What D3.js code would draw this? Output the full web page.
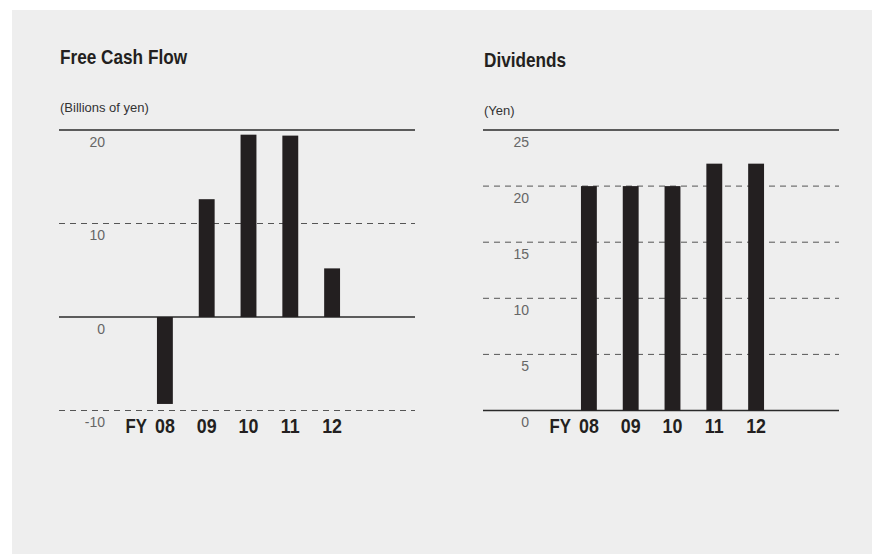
<!DOCTYPE html>
<html>
<head>
<meta charset="utf-8">
<script src="https://cdn.jsdelivr.net/npm/d3@7"></script>
<style>
  body { margin: 0; background: #fff; }
  svg { display: block; }
</style>
</head>
<body>
<div id="chart"></div>
<script>
// Data
const years = ["08", "09", "10", "11", "12"];
const freeCashFlow = [-9.3, 12.6, 19.5, 19.4, 5.2];
const dividends = [20, 20, 20, 22, 22];
const fcfTicks = [-10, 0, 10, 20];
const dividendTicks = [0, 5, 10, 15, 20, 25];

const width = 873;
const height = 554;

const svg = d3
  .select("#chart")
  .append("svg")
  .attr("width", width)
  .attr("height", height)
  .attr("viewBox", [0, 0, width, height]);

// grey backdrop
svg
  .append("rect")
  .attr("x", 12)
  .attr("y", 10)
  .attr("width", width - 13)
  .attr("height", height - 10)
  .attr("fill", "#eeeeee");

const plain = "'Liberation Sans', Arial, sans-serif";

// no condensed bold face available, so squeeze the bold one horizontally
function condensed(parent, x, y, txt, size, anchor = "start", squeeze = 0.8) {
  return parent
    .append("g")
    .attr("transform", `translate(${x},${y}) scale(${squeeze},1)`)
    .append("text")
    .attr("text-anchor", anchor)
    .attr("font-family", plain)
    .attr("font-weight", "bold")
    .attr("font-size", size + "px")
    .attr("fill", "#231f20")
    .text(txt);
}

function drawPanel(opts) {
  const { left, title, unit, values, ticks, titleY, unitY } = opts;
  const plotW = 356;
  const top = 130;
  const bottom = 410.5;

  const g = svg.append("g").attr("transform", `translate(${left},0)`);

  const x = d3
    .scaleBand()
    .domain(years)
    .range([85, 294])
    .paddingInner(0.62)
    .paddingOuter(0.31);

  const y = d3
    .scaleLinear()
    .domain(d3.extent(ticks))
    .range([bottom, top]);

  // title + unit
  condensed(g, 1, titleY, title, 20, "start", 0.86);

  g.append("text")
    .attr("x", 1)
    .attr("y", unitY)
    .attr("font-family", plain)
    .attr("font-size", "13px")
    .attr("fill", "#333")
    .text(unit);

  // gridlines: top and zero are solid, the rest dashed
  const maxTick = d3.max(ticks);
  const solid = (d) => d === 0 || d === maxTick;
  g.append("g")
    .selectAll("line")
    .data(ticks)
    .join("line")
    .attr("x1", 0)
    .attr("x2", plotW)
    .attr("y1", (d) => y(d))
    .attr("y2", (d) => y(d))
    .attr("stroke", (d) => (solid(d) ? "#2a2a2a" : "#555"))
    .attr("stroke-width", (d) => (solid(d) ? 1.4 : 1))
    .attr("stroke-dasharray", (d) => (solid(d) ? null : "6,5"));

  // tick labels sit just under their line
  g.append("g")
    .selectAll("text")
    .data(ticks)
    .join("text")
    .attr("x", 46)
    .attr("y", (d) => y(d) + 16.5)
    .attr("text-anchor", "end")
    .attr("font-family", plain)
    .attr("font-size", "14px")
    .attr("fill", "#666")
    .text((d) => d);

  // bars
  g.append("g")
    .selectAll("rect")
    .data(values)
    .join("rect")
    .attr("x", (d, i) => x(years[i]))
    .attr("width", x.bandwidth())
    .attr("y", (d) => y(Math.max(0, d)))
    .attr("height", (d) => Math.abs(y(d) - y(0)))
    .attr("fill", "#231f20");

  // category labels
  const labelY = 433;
  years.forEach((yr) => {
    condensed(g, x(yr) + x.bandwidth() / 2, labelY, yr, 21, "middle", 0.85);
  });
  condensed(g, x(years[0]) - 10, labelY, "FY", 21, "end", 0.8);
}

drawPanel({
  left: 59,
  title: "Free Cash Flow",
  unit: "(Billions of yen)",
  values: freeCashFlow,
  ticks: fcfTicks,
  titleY: 64,
  unitY: 112,
});

drawPanel({
  left: 483,
  title: "Dividends",
  unit: "(Yen)",
  values: dividends,
  ticks: dividendTicks,
  titleY: 66.5,
  unitY: 115,
});
</script>
</body>
</html>
